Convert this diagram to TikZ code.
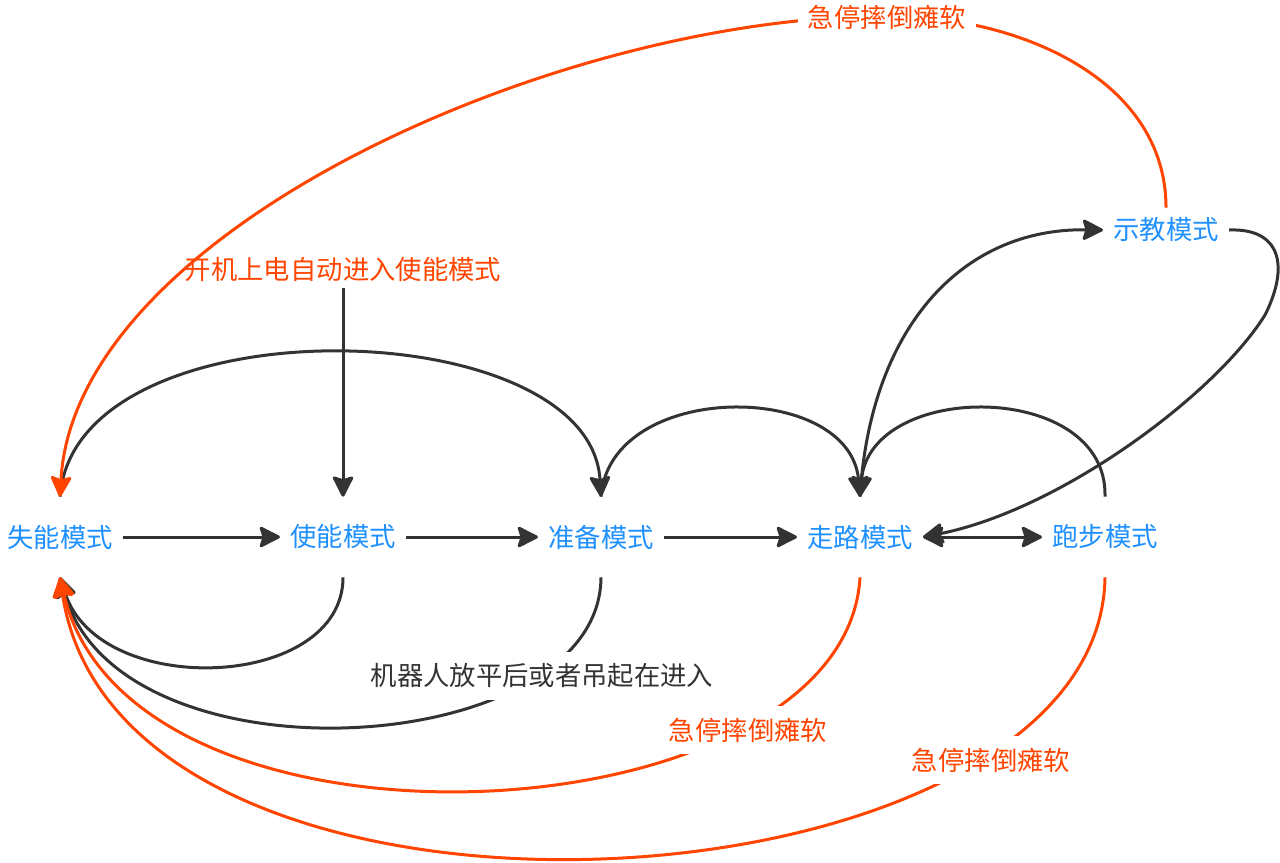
\documentclass[tikz,border=0pt]{standalone}
\usepackage{fontspec}
\setmainfont{Noto Sans CJK SC}
\usetikzlibrary{arrows.meta}
\definecolor{modeblue}{HTML}{1E90FF}
\definecolor{stopred}{HTML}{FF4500}
\definecolor{linegray}{HTML}{333333}

\tikzset{
  >={Stealth[length=13pt,width=13pt,inset=2pt,round]},
  modebox/.style={text=modeblue, inner xsep=0.2cm, minimum height=1.6cm},
  notelabel/.style={fill=white, inner xsep=0.2cm, inner ysep=0.24cm},
  trans/.style={draw=linegray, line width=0.06cm, ->},
  stopline/.style={trans, draw=stopred},
}

\begin{document}
\begin{tikzpicture}[x=0.02cm, y=-0.02cm, font=\fontsize{15pt}{18pt}\selectfont]
\useasboundingbox (0,0) rectangle (1280,862);

% modes
\node[modebox] (disable) at (60,537) {失能模式};
\node[modebox] (enable) at (343,537) {使能模式};
\node[modebox] (ready) at (601,537) {准备模式};
\node[modebox] (walk) at (860,537) {走路模式};
\node[modebox] (run) at (1105,537) {跑步模式};
\node[modebox, minimum height=0.88cm] (teach) at (1166,230) {示教模式};

\node[text=stopred] (poweron) at (343,270) {开机上电自动进入使能模式};
\draw[trans] (poweron) -- (enable.north);

% main chain
\draw[trans] (disable) -- (enable);
\draw[trans] (enable) -- (ready);
\draw[trans] (ready) -- (walk);
\draw[trans, <->] (walk) -- (run);

% arcs above
\draw[trans] (disable.north) .. controls (75,300) and (590,310) .. (ready.north);
\draw[trans] (ready.north) .. controls (610,380) and (850,380) .. (walk.north);
\draw[trans] (run.north) .. controls (1108,380) and (870,380) .. (walk.north);
\draw[trans] (walk.north) .. controls (870,330) and (960,228) .. (teach.west);
\draw[trans] (teach.east) .. controls (1280,228) and (1290,265) .. (1265,315)
  .. controls (1215,395) and (1060,510) .. (walk.east);

% arcs below, back to disable
\draw[trans] (enable.south) .. controls (343,690) and (100,700) .. (disable.south);
\draw[trans] (ready.south) .. controls (600,760) and (120,790) .. (disable.south);
\draw[stopline] (walk.south) .. controls (845,840) and (130,880) .. (disable.south);
\draw[stopline] (run.south) .. controls (1100,920) and (120,980) .. (disable.south);
\draw[stopline] (teach.north) .. controls (1166,80) and (1020,16) .. (888,16)
  .. controls (560,16) and (75,230) .. (disable.north);

% labels on the arcs
\node[notelabel, text=linegray] (lift) at (542,676) {机器人放平后或者吊起在进入};
\node[notelabel, text=stopred] (stopa) at (887,17) {急停摔倒瘫软};
\node[notelabel, text=stopred] (stopb) at (748,730) {急停摔倒瘫软};
\node[notelabel, text=stopred] (stopc) at (991,760) {急停摔倒瘫软};
\end{tikzpicture}
\end{document}
